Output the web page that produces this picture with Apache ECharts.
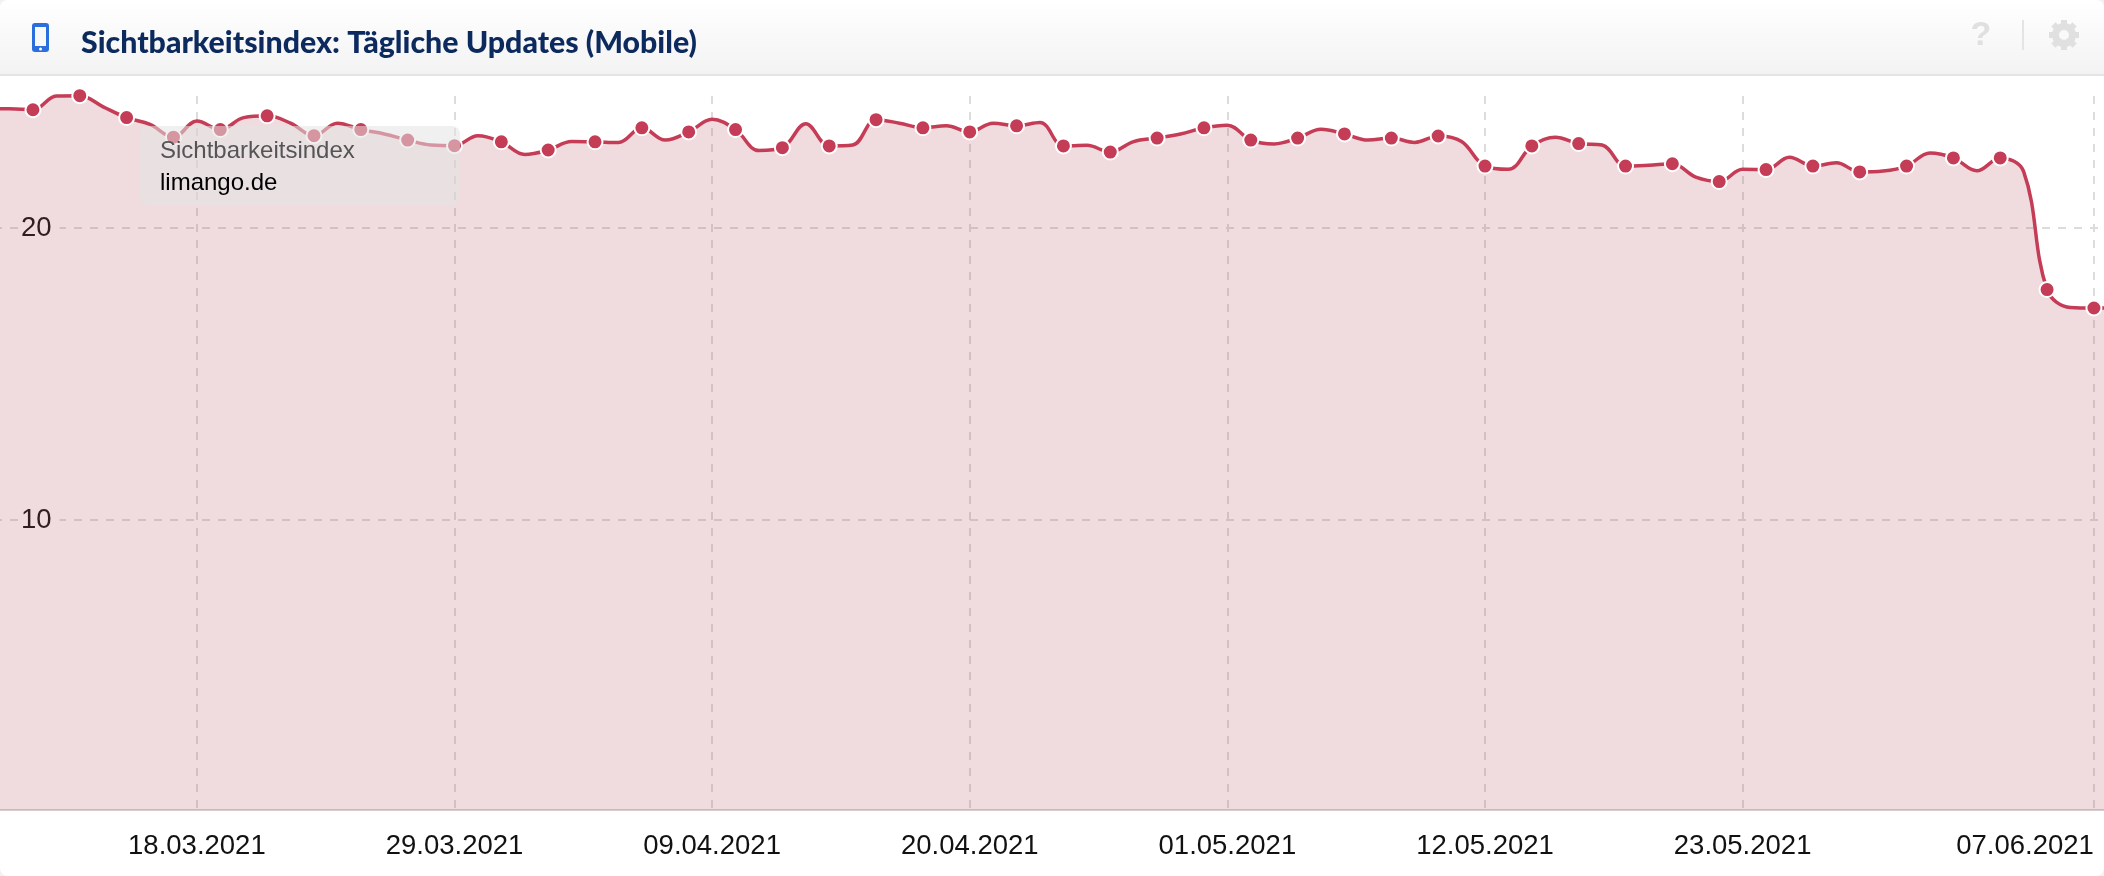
<!DOCTYPE html>
<html>
<head>
<meta charset="utf-8">
<title>Sichtbarkeitsindex</title>
<script src="https://cdn.jsdelivr.net/npm/echarts@6/dist/echarts.min.js"></script>
<style>
  html, body { margin: 0; padding: 0; background: #f2f2f2; }
  #chart { width: 2104px; height: 876px; background: #fff; border-radius: 8px; overflow: hidden; }
</style>
</head>
<body>
<div id="chart"></div>
<script>
const chartTitle = 'Sichtbarkeitsindex: Tägliche Updates (Mobile)';
const seriesName = 'Sichtbarkeitsindex';
const domainName = 'limango.de';

// one value per day, the first one is 09.03.2021, a marker on every second day
const firstDay = Date.UTC(2021, 2, 9);
const visibility = [
  24.08, 24.08, 24.05, 24.52, 24.53, 24.15, 23.78, 23.55, 23.11, 23.66,
  23.37, 23.78, 23.84, 23.59, 23.16, 23.59, 23.37, 23.22, 23.01, 22.84,
  22.82, 23.16, 22.95, 22.52, 22.67, 22.96, 22.95, 22.93, 23.43, 23.01,
  23.29, 23.72, 23.37, 22.65, 22.75, 23.57, 22.81, 22.84, 23.71, 23.59,
  23.43, 23.50, 23.29, 23.59, 23.50, 23.61, 22.81, 22.83, 22.60, 22.96,
  23.08, 23.22, 23.43, 23.52, 23.01, 22.88, 23.08, 23.38, 23.22, 23.01,
  23.08, 22.93, 23.15, 22.96, 22.12, 22.01, 22.81, 23.11, 22.89, 22.84,
  22.12, 22.15, 22.20, 21.74, 21.59, 22.01, 22.00, 22.42, 22.12, 22.23,
  21.92, 21.95, 22.12, 22.57, 22.40, 21.96, 22.40, 21.93, 17.89, 17.28,
  17.26, 17.26
];
const xTicks = ['2021-03-18', '2021-03-29', '2021-04-09', '2021-04-20', '2021-05-01', '2021-05-12', '2021-05-23', '2021-06-07'];
const yTicks = [10, 20];

const DAY = 86400000;
const lineColor = '#c43c56';
const seriesData = visibility.map((v, i) => [firstDay + i * DAY, v]);
const xTickValues = xTicks.map(d => Date.parse(d));

function gearTeeth() {
  const teeth = [];
  for (let i = 0; i < 8; i++) {
    teeth.push({
      type: 'rect',
      z: 2,
      shape: { x: -3, y: -15, width: 6, height: 6 },
      rotation: i * Math.PI / 4,
      style: { fill: '#e0e0e0' }
    });
  }
  return teeth;
}

const chart = echarts.init(document.getElementById('chart'), null, { renderer: 'canvas' });
chart.setOption({
  animation: false,
  backgroundColor: 'transparent',
  title: {
    text: chartTitle,
    left: 76,
    top: 23,
    textStyle: { fontFamily: 'Lato', fontWeight: 900, fontSize: 30.3, color: '#0c2a5e' }
  },
  grid: { left: 0, right: 0, top: 96, bottom: 66 },
  xAxis: {
    // plain value axis holding epoch days, custom tick positions do not work on a time axis
    type: 'value',
    scale: true,
    min: Date.UTC(2021, 2, 9, 14, 15),
    max: Date.UTC(2021, 5, 7, 10, 20),
    axisLine: { lineStyle: { color: '#d9cdd0', width: 2 } },
    axisTick: { show: false, customValues: xTickValues },
    axisLabel: {
      customValues: xTickValues,
      alignMaxLabel: 'right',
      margin: 22,
      fontFamily: 'Liberation Sans',
      fontSize: 27.5,
      color: '#111',
      formatter: v => new Date(v).toISOString().slice(0, 10).split('-').reverse().join('.')
    },
    splitLine: {
      show: true,
      lineStyle: { color: '#dcdcdc', width: 2, type: [8, 8], dashOffset: 0 }
    }
  },
  yAxis: {
    type: 'value',
    min: 0.07,
    max: 24.52,
    axisLine: { show: false },
    axisTick: { show: false, customValues: yTicks },
    axisLabel: {
      customValues: yTicks,
      inside: true,
      margin: 19,
      fontFamily: 'Liberation Sans',
      fontSize: 27.5,
      color: '#111',
      backgroundColor: '#fff',
      padding: [3, 8, 0, 2]
    },
    splitLine: {
      show: true,
      lineStyle: { color: '#dcdcdc', width: 2, type: [8, 8], dashOffset: 6 }
    }
  },
  series: [{
    name: seriesName,
    type: 'line',
    data: seriesData,
    clip: false,
    smooth: 0.38,
    symbol: (val, params) => (params.dataIndex % 2 === 0 ? 'circle' : 'none'),
    symbolSize: 15,
    itemStyle: { color: lineColor, borderColor: '#fff', borderWidth: 2, opacity: 1 },
    lineStyle: { color: lineColor, width: 3.5 },
    areaStyle: { color: 'rgba(180, 80, 95, 0.2)', opacity: 1 }
  }],
  graphic: [
    // header bar
    {
      type: 'rect', z: 1,
      shape: { x: 0, y: 0, width: 2104, height: 74 },
      style: {
        fill: new echarts.graphic.LinearGradient(0, 0, 0, 1, [
          { offset: 0, color: '#ffffff' }, { offset: 1, color: '#f3f3f3' }
        ])
      }
    },
    { type: 'rect', z: 1, shape: { x: 0, y: 74, width: 2104, height: 2 }, style: { fill: '#e4e4e4' } },
    // phone icon
    { type: 'rect', z: 2, shape: { x: 32, y: 23, width: 17, height: 29, r: 3 }, style: { fill: '#2b6fdc' } },
    { type: 'rect', z: 3, shape: { x: 35, y: 27, width: 11, height: 19 }, style: { fill: '#f8f8f8' } },
    { type: 'circle', z: 3, shape: { cx: 40.5, cy: 49, r: 1.5 }, style: { fill: '#fff' } },
    // help and settings
    {
      type: 'text', z: 2, x: 1981, y: 36,
      style: {
        text: '?', fontFamily: 'Liberation Sans', fontWeight: 'bold', fontSize: 34,
        fill: '#e0e0e0', align: 'center', verticalAlign: 'middle'
      }
    },
    { type: 'rect', z: 2, shape: { x: 2022, y: 20, width: 2, height: 30 }, style: { fill: '#e4e4e4' } },
    {
      type: 'group', x: 2064, y: 35,
      children: [
        { type: 'circle', z: 2, shape: { cx: 0, cy: 0, r: 8.5 }, style: { fill: 'none', stroke: '#e0e0e0', lineWidth: 7 } }
      ].concat(gearTeeth())
    },
    // overlay box with the series name
    {
      type: 'rect', z: 20,
      shape: { x: 140, y: 126, width: 320, height: 80, r: 8 },
      style: { fill: 'rgba(228, 228, 228, 0.54)' }
    },
    {
      type: 'text', z: 21, x: 160, y: 151,
      style: { text: seriesName, fontFamily: 'Liberation Sans', fontSize: 24, fill: '#555', verticalAlign: 'middle' }
    },
    {
      type: 'text', z: 21, x: 160, y: 183,
      style: { text: domainName, fontFamily: 'Liberation Sans', fontSize: 24, fill: '#000', verticalAlign: 'middle' }
    }
  ]
});
</script>
</body>
</html>
